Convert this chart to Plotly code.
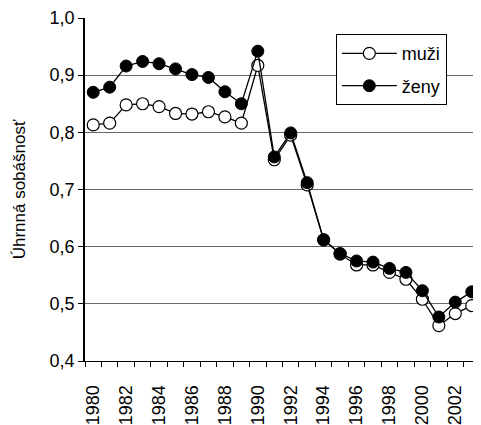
import plotly.graph_objects as go

years = list(range(1980, 2004))
muzi = [0.813, 0.816, 0.848, 0.850, 0.845, 0.833, 0.832, 0.836, 0.827, 0.816,
        0.917, 0.752, 0.795, 0.708, 0.612, 0.587, 0.568, 0.568, 0.555, 0.543,
        0.508, 0.462, 0.483, 0.497]
zeny = [0.870, 0.879, 0.916, 0.924, 0.920, 0.911, 0.901, 0.896, 0.871, 0.850,
        0.942, 0.757, 0.799, 0.712, 0.612, 0.588, 0.575, 0.573, 0.562, 0.555,
        0.523, 0.477, 0.503, 0.521]
xtick_vals = list(range(1980, 2004, 2))
ytick_vals = [0.4, 0.5, 0.6, 0.7, 0.8, 0.9, 1.0]

FONT = "Liberation Sans, Arial, sans-serif"

fig = go.Figure()
fig.add_trace(go.Scatter(
    x=years, y=muzi, name="muži", mode="lines+markers", legendgroup="m",
    line=dict(color="black", width=1.3), cliponaxis=False,
    marker=dict(symbol="circle", size=12, color="white", line=dict(color="black", width=1.2)),
))
fig.add_trace(go.Scatter(
    x=years, y=zeny, name="ženy", mode="lines+markers", legendgroup="z",
    line=dict(color="black", width=1.3), cliponaxis=False,
    marker=dict(symbol="circle", size=12, color="black", line=dict(color="black", width=1)),
))

# page body has an 8px margin, so the figure is offset by (8, 8)
fig.update_layout(
    width=473, height=417,
    margin=dict(l=77, r=1, t=10, b=64),
    paper_bgcolor="white", plot_bgcolor="white",
    font=dict(family=FONT, size=17, color="black"),
    showlegend=True,
    legend=dict(
        x=0.635, y=0.953, xanchor="left", yanchor="top",
        bordercolor="black", borderwidth=1, bgcolor="white",
        font=dict(size=18), traceorder="grouped", tracegroupgap=6, itemwidth=55,
    ),
    xaxis=dict(
        range=[1979.5, 2003.5], tickvals=xtick_vals, ticktext=[str(v) for v in xtick_vals],
        tickangle=-90, ticks="", showgrid=False, zeroline=False,
        showline=True, linecolor="black", linewidth=1,
        minor=dict(tick0=1979.5, dtick=1, ticks="outside", ticklen=5, tickcolor="black", showgrid=False),
        tickfont=dict(size=18), fixedrange=True, automargin=False, ticklabelstandoff=16,
    ),
    yaxis=dict(
        range=[0.4, 1.0], tickvals=ytick_vals, tickformat=".1f",
        ticks="outside", ticklen=5, tickcolor="black",
        showgrid=True, gridcolor="#666666", gridwidth=1,
        zeroline=False, showline=True, linecolor="black", linewidth=1.5,
        title=dict(text="Úhrnná sobášnosť", font=dict(size=17), standoff=20),
        tickfont=dict(size=18), automargin=False,
    ),
    separators=", ",
)

fig.write_html("out.html")
